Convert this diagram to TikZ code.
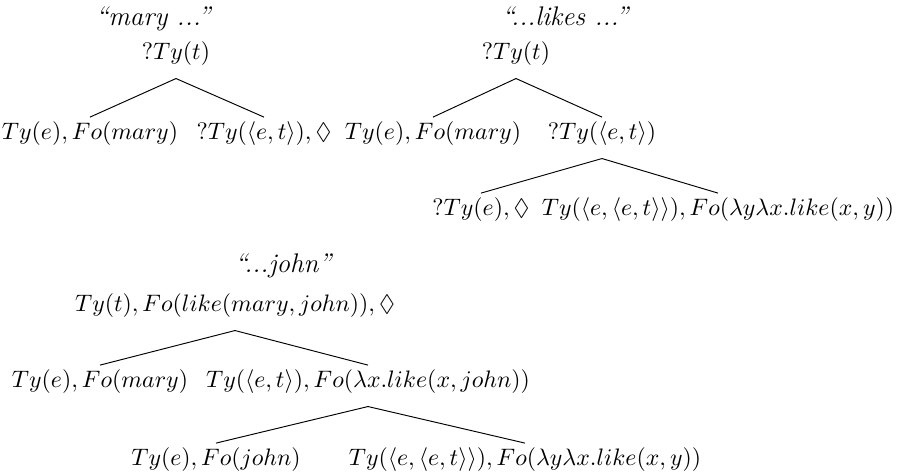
\documentclass[tikz,border=0pt]{standalone}
\usepackage{amsmath,amssymb}
\usepackage{tikz}
\usetikzlibrary{positioning}

\begin{document}
\begin{tikzpicture}[x=0.42pt, y=-0.42pt,
  tynode/.style={anchor=base, inner sep=0pt},
  saidtext/.style={anchor=base, inner sep=0pt, font=\fontsize{11.3pt}{13pt}\selectfont\itshape},
  branch/.style={line width=0.4pt}]
\useasboundingbox (0,0) rectangle (899,474);
% first step: "mary ..."
\node[saidtext] (t1title) at (153,25) {``mary ...''};
\node[tynode] (t1root) at (176,59) {$?Ty(t)$};
\node[tynode] (t1l) at (90,139) {$Ty(e), Fo(mary)$};
\node[tynode] (t1r) at (264,139) {$?Ty(\langle e,t\rangle), \Diamond$};
\draw[branch] ([yshift=-5.5pt]t1root.south) -- ([yshift=1.5pt]t1l.north);
\draw[branch] ([yshift=-5.5pt]t1root.south) -- ([yshift=1.5pt]t1r.north);
% second step: "...likes ..."
\node[saidtext] (t2title) at (565,25) {``...likes ...''};
\node[tynode] (t2root) at (516,59) {$?Ty(t)$};
\node[tynode] (t2l) at (433,139) {$Ty(e), Fo(mary)$};
\node[tynode] (t2r) at (602,139) {$?Ty(\langle e,t\rangle)$};
\node[tynode] (t2rl) at (481,215) {$?Ty(e), \Diamond$};
\node[tynode] (t2rr) at (718,215) {$Ty(\langle e,\langle e,t\rangle\rangle), Fo(\lambda y\lambda x.like(x,y))$};
\draw[branch] ([yshift=-5.5pt]t2root.south) -- ([yshift=1.5pt]t2l.north);
\draw[branch] ([yshift=-5.5pt]t2root.south) -- ([yshift=1.5pt]t2r.north);
\draw[branch] ([yshift=-5.5pt]t2r.south) -- ([yshift=1.5pt]t2rl.north);
\draw[branch] ([yshift=-5.5pt]t2r.south) -- ([yshift=1.5pt]t2rr.north);
% third step: "...john"
\node[saidtext] (t3title) at (283,272) {``...john''};
\node[tynode] (t3root) at (235,311) {$Ty(t), Fo(like(mary,john)), \Diamond$};
\node[tynode] (t3l) at (100,387) {$Ty(e), Fo(mary)$};
\node[tynode] (t3r) at (368,387) {$Ty(\langle e,t\rangle), Fo(\lambda x.like(x,john))$};
\node[tynode] (t3rl) at (216,465) {$Ty(e), Fo(john)$};
\node[tynode] (t3rr) at (525,465) {$Ty(\langle e,\langle e,t\rangle\rangle), Fo(\lambda y\lambda x.like(x,y))$};
\draw[branch] ([yshift=-5.5pt]t3root.south) -- ([yshift=1.5pt]t3l.north);
\draw[branch] ([yshift=-5.5pt]t3root.south) -- ([yshift=1.5pt]t3r.north);
\draw[branch] ([yshift=-5.5pt]t3r.south) -- ([yshift=1.5pt]t3rl.north);
\draw[branch] ([yshift=-5.5pt]t3r.south) -- ([yshift=1.5pt]t3rr.north);
\end{tikzpicture}
\end{document}
